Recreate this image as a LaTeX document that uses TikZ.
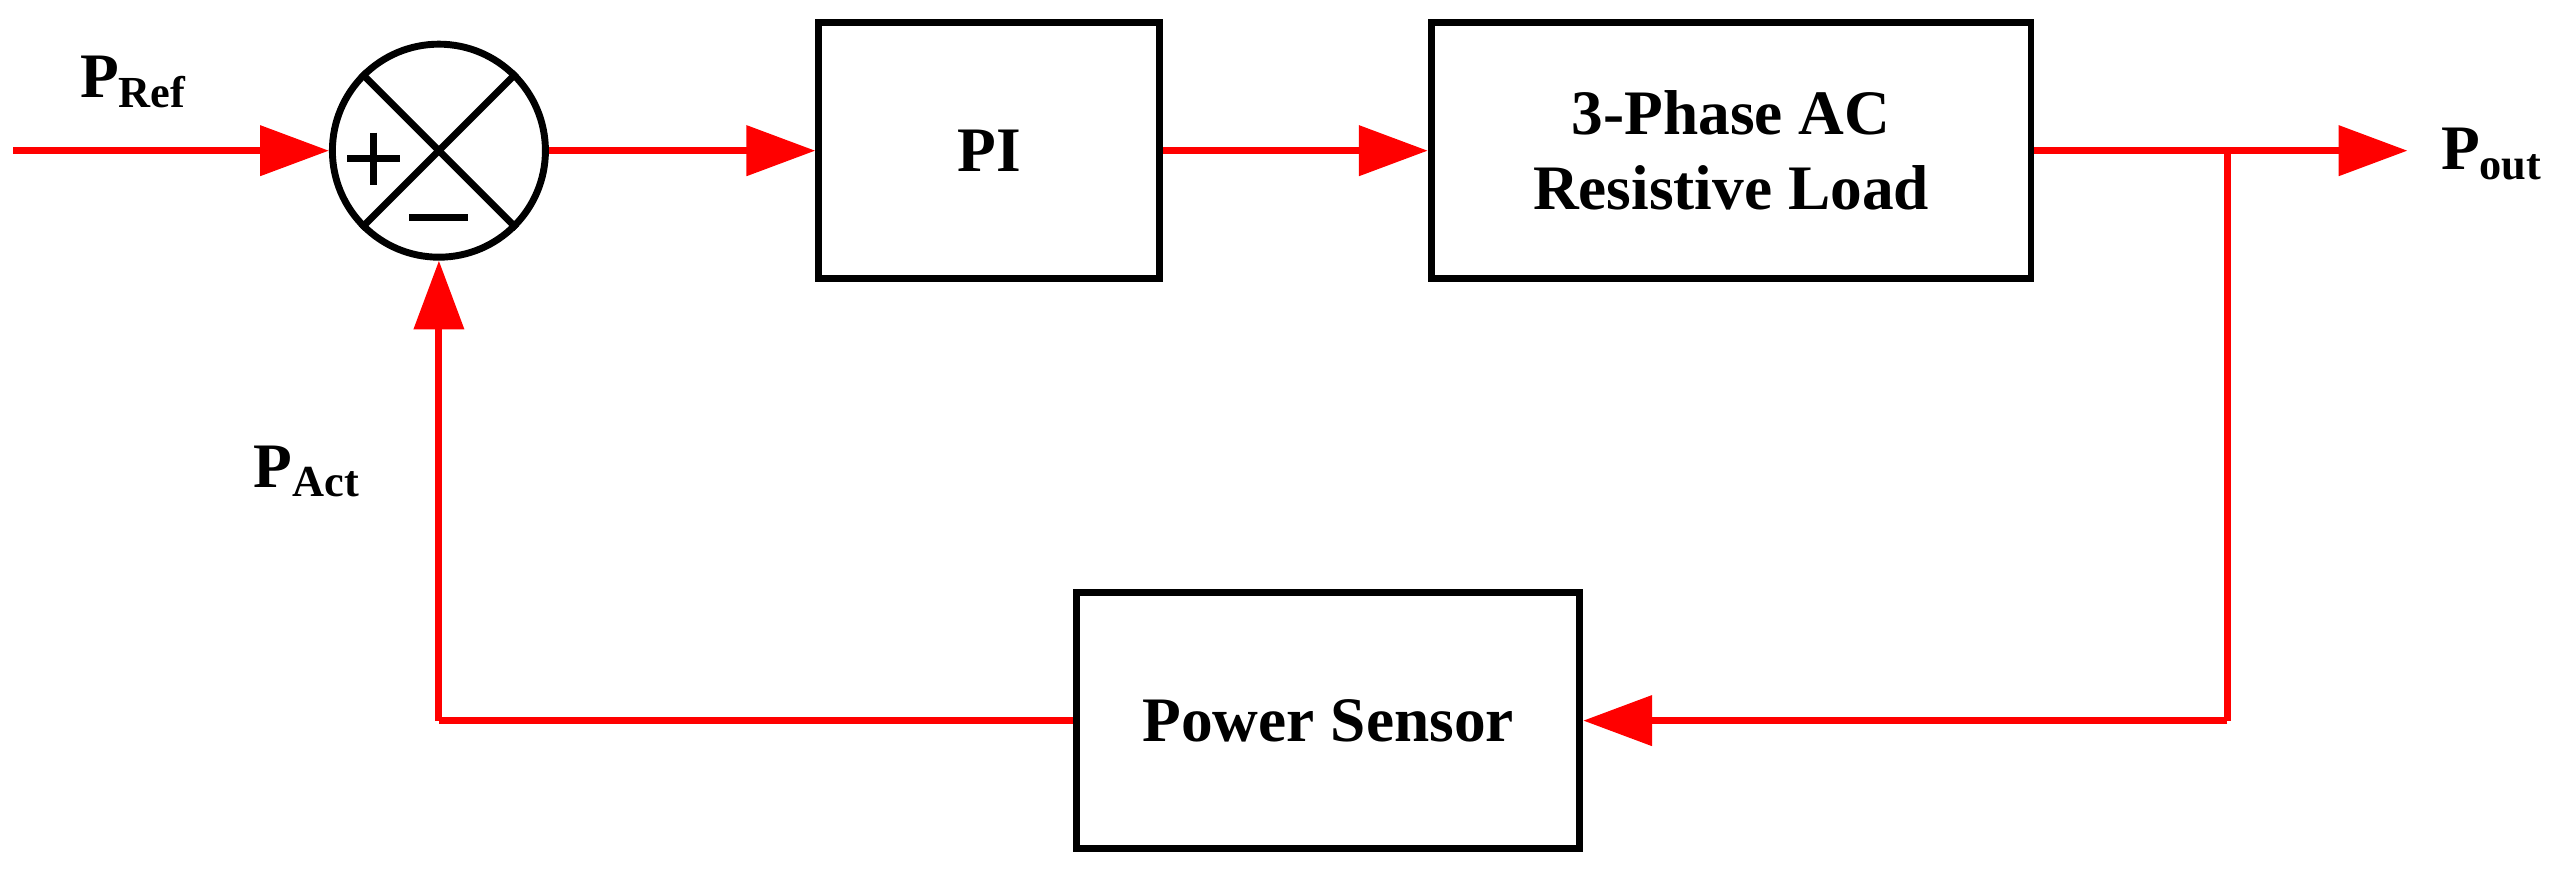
\documentclass[tikz,border=0pt]{standalone}
\usepackage{fontspec}
\setmainfont{Liberation Serif}
\usetikzlibrary{positioning,arrows.meta}
\begin{document}
\begin{tikzpicture}[x=0.01cm, y=-0.01cm,
  block/.style={draw, line width=1.2pt, font=\fontsize{11}{13}\selectfont\bfseries, align=center},
  sig/.style={draw=red, line width=1.2pt, -{Triangle[length=0.42cm, width=0.3cm]}},
  wire/.style={draw=red, line width=1.2pt},
  lbl/.style={font=\fontsize{11}{13}\selectfont\bfseries}]
  \useasboundingbox (0,0) rectangle (1568,533);

  % blocks
  \node[block, circle, minimum size=1.3cm, inner sep=0pt] (sum) at (268,92) {};
  \node[block, minimum width=2.08cm, minimum height=1.56cm] (pi) at (604,92) {PI};
  \node[block, minimum width=3.66cm, minimum height=1.56cm] (load) at (1057,92) {3-Phase AC\\Resistive Load};
  \node[block, minimum width=3.07cm, minimum height=1.56cm] (sensor) at (811,440) {Power Sensor};

  % summing junction marks
  \draw[line width=1.2pt] (sum.north west) -- (sum.south east);
  \draw[line width=1.2pt] (sum.north east) -- (sum.south west);
  \draw[line width=1.2pt] (212,97) -- (244,97) (228,81) -- (228,113);
  \draw[line width=1.2pt] (250,133) -- (286,133);

  % coordinates
  \coordinate (in) at (8,92);
  \coordinate (out) at (1470,92);
  \coordinate (tap) at (1360,92);
  \coordinate (tapd) at (1360,440);
  \coordinate (corner) at (268,440);

  % signals
  \draw[sig] (in) -- (sum.west);
  \draw[sig] (sum.east) -- (pi.west);
  \draw[sig] (pi.east) -- (load.west);
  \draw[sig] (load.east) -- (out);
  \draw[wire] (tap) -- (tapd);
  \draw[sig] (tapd) -- (sensor.east);
  \draw[wire] (sensor.west) -- (corner);
  \draw[sig] (corner) -- (sum.south);

  % labels
  \node[lbl] (pref) at (82,50) {P\textsubscript{Ref}};
  \node[lbl] (pout) at (1522,94) {P\textsubscript{out}};
  \node[lbl] (pact) at (188,288) {P\textsubscript{Act}};
\end{tikzpicture}
\end{document}
